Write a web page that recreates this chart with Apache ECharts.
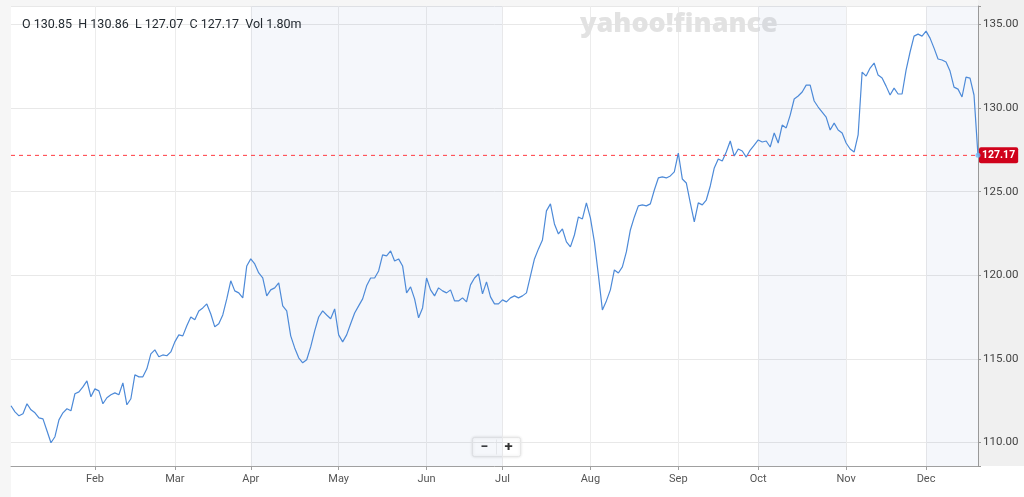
<!DOCTYPE html>
<html>
<head>
<meta charset="utf-8">
<style>
  html, body { margin: 0; padding: 0; background: #ffffff; }
  #chart { width: 1024px; height: 497px; }
</style>
<script src="https://cdn.jsdelivr.net/npm/echarts@6/dist/echarts.min.js"></script>
</head>
<body>
<div id="chart"></div>
<script>
// ---- data ----
const monthNames = ['Jan','Feb','Mar','Apr','May','Jun','Jul','Aug','Sep','Oct','Nov','Dec'];

const janClose = [112.20,111.84,111.60,111.72,112.32,111.96,111.78,111.48,111.42,110.71,109.99,110.35,111.36,111.78,112.02,111.90,112.92,113.03,113.33,113.69,112.74];
const febClose = [113.21,113.09,112.32,112.68,112.86,112.97,112.86,113.57,112.26,112.62,114.05,113.93,113.93,114.41,115.30,115.54,115.13,115.24,115.19,115.42];
const marClose = [116.02,116.44,116.38,116.98,117.51,117.34,117.87,118.05,118.29,117.69,116.92,117.10,117.63,118.59,119.67,119.07,118.95,118.65,120.56];
const aprClose = [120.98,120.68,120.14,119.84,118.77,119.13,119.25,119.55,118.17,117.87,116.38,115.66,115.07,114.77,114.95,115.72,116.68,117.51,117.87,117.63,117.40,117.99];
const mayClose = [116.44,116.02,116.44,117.10,117.75,118.17,118.59,119.37,119.84,119.84,120.26,121.22,121.16,121.46,120.86,120.98,120.56,118.95,119.31,118.59,117.46,118.05];
const junClose = [119.84,119.13,118.77,119.25,119.07,118.95,119.13,118.47,118.47,118.65,118.41,119.43,119.84,120.08,118.89,119.61,118.71,118.29,118.29];
const julClose = [118.53,118.41,118.65,118.77,118.65,118.77,118.95,119.96,120.98,121.58,122.11,123.85,124.27,123.07,122.47,122.77,122.00,121.70,122.41,123.49,123.37,124.33];
const augClose = [123.43,122.00,120.02,117.93,118.47,119.13,120.32,120.14,120.50,121.40,122.71,123.49,124.15,124.21,124.15,124.27,125.10,125.82,125.88,125.82,125.94,126.18];
const sepClose = [127.31,125.76,125.52,124.33,123.19,124.33,124.21,124.50,125.34,126.42,126.95,126.83,127.37,128.03,127.13,127.55,127.43,127.07,127.49,127.79];
const octClose = [128.09,127.97,128.03,127.67,128.51,127.91,128.98,128.81,129.58,130.54,130.72,130.96,131.37,131.37,130.42,130.06,129.76,129.46,128.69,129.10,128.69,128.51];
const novClose = [127.91,127.55,127.37,128.39,132.15,131.91,132.39,132.69,131.97,131.79,131.31,130.78,131.19,130.84,130.84,132.27,133.35,134.30,134.42,134.30];
const decClose = [134.60,134.18,133.58,132.93,132.87,132.75,132.21,131.25,131.13,130.66,131.85,131.79,130.78,127.17];

const yTickValues = [110, 115, 120, 125, 130, 135];
const quoteLabels = ['O', 'H', 'L', 'C', 'Vol'];
const quoteValues = ['130.85', '130.86', '127.07', '127.17', '1.80m'];
const lastPrice = 127.17;
const shadedMonths = [['Apr', 'Jul'], ['Oct', 'Nov'], ['Dec', null]];

// ---- build series from the arrays ----
const closeByMonth = [janClose, febClose, marClose, aprClose, mayClose, junClose,
                      julClose, augClose, sepClose, octClose, novClose, decClose];
const categories = [];
const closes = [];
closeByMonth.forEach((arr, m) => {
  arr.forEach((v, k) => {
    categories.push(monthNames[m] + '-' + (k + 1));
    closes.push(v);
  });
});
const lastIdx = closes.length - 1;
const isMonthStart = (idx) => {
  const c = categories[idx];
  return !!c && c.endsWith('-1') && !c.startsWith('Jan');
};

const markAreaData = shadedMonths.map(([a, b]) => [
  { xAxis: a + '-1' },
  { xAxis: b ? b + '-1' : categories[lastIdx] }
]);

const FONT = 'Roboto, "Liberation Sans", sans-serif';
const RED_LINE = '#ff3b42';

const chart = echarts.init(document.getElementById('chart'), null, { renderer: 'canvas' });
chart.setOption({
  animation: false,
  backgroundColor: '#ffffff',
  textStyle: { fontFamily: FONT },
  grid: {
    left: 11, right: 46, top: 6, bottom: 31,
    show: true, backgroundColor: '#ffffff', borderWidth: 0
  },
  graphic: [
    { type: 'rect', z: -10, shape: { x: 0, y: 0, width: 11, height: 497 }, style: { fill: '#f6f6f6' } },
    { type: 'rect', z: -10, shape: { x: 0, y: 0, width: 1024, height: 6 }, style: { fill: '#f6f6f6' } },
    { type: 'rect', z: -10, shape: { x: 978, y: 0, width: 46, height: 466 }, style: { fill: '#f0f0f0' } },
    {
      type: 'text', left: 22, top: 18, z: 100,
      style: {
        text: quoteLabels.map((l, i) => l + ' ' + quoteValues[i]).join('  '),
        font: '12.5px ' + FONT, fill: '#232a31'
      }
    },
    {
      type: 'text', left: 580, top: 11, z: 1,
      style: {
        text: 'yahoo!finance',
        font: '900 27px "Open Sans", Roboto, sans-serif', fill: '#e2e2e2'
      }
    },
    {
      type: 'group', left: 472, top: 437, z: 100,
      children: [
        { type: 'rect', shape: { x: 0, y: 0, width: 48, height: 19, r: 2 },
          style: { fill: '#ffffff', stroke: '#e6e6e6', lineWidth: 1, shadowBlur: 3, shadowColor: 'rgba(0,0,0,0.12)' } },
        { type: 'line', shape: { x1: 24, y1: 2, x2: 24, y2: 17 }, style: { stroke: '#eeeeee', lineWidth: 1 } },
        { type: 'text', style: { x: 12, y: 9.5, text: '−', font: 'bold 14px ' + FONT, fill: '#333', align: 'center', verticalAlign: 'middle' } },
        { type: 'text', style: { x: 36, y: 9.5, text: '+', font: 'bold 15px ' + FONT, fill: '#333', align: 'center', verticalAlign: 'middle' } }
      ]
    }
  ],
  xAxis: {
    type: 'category',
    data: categories,
    boundaryGap: false,
    axisLine: { show: true, lineStyle: { color: '#a0a0a0', width: 1 } },
    axisTick: { show: true, interval: (i) => isMonthStart(i), length: 4, lineStyle: { color: '#a0a0a0' } },
    axisLabel: {
      interval: (i) => isMonthStart(i),
      formatter: (v) => v.split('-')[0],
      color: '#555', fontSize: 11, margin: 8, fontFamily: FONT
    },
    splitLine: { show: true, interval: (i) => isMonthStart(i), lineStyle: { color: '#ececec', width: 1 } }
  },
  yAxis: {
    type: 'value',
    position: 'right',
    min: 108.6,
    max: 136.1,
    splitNumber: 5,
    axisLine: { show: true, lineStyle: { color: '#999', width: 1 } },
    axisTick: { show: true, length: 3, lineStyle: { color: '#999' } },
    axisLabel: {
      color: '#444', fontSize: 11.5, margin: 5, fontFamily: FONT,
      formatter: (v) => yTickValues.some(t => Math.abs(t - v) < 1e-6) ? v.toFixed(2) : ''
    },
    splitLine: { show: true, lineStyle: { color: '#e8e8e8', width: 1 } }
  },
  series: [
    {
      type: 'line',
      data: closes,
      symbol: 'none',
      smooth: false,
      lineStyle: { color: '#4d8ad8', width: 1.2 },
      z: 5,
      markArea: {
        silent: true,
        itemStyle: { color: 'rgba(0,60,160,0.04)' },
        data: markAreaData
      }
    },
    {
      // last-price reference line
      type: 'line',
      data: [[categories[0], lastPrice], [categories[lastIdx], lastPrice]],
      symbol: 'none',
      silent: true,
      z: 4,
      itemStyle: { color: RED_LINE },
      lineStyle: { color: RED_LINE, type: [4, 4], width: 1 },
      endLabel: {
        show: true,
        distance: 1,
        formatter: () => lastPrice.toFixed(2),
        backgroundColor: '#d0021b', color: '#fff',
        fontSize: 10.5, fontWeight: 'bold', padding: [3, 3, 2, 3], borderRadius: 2,
        fontFamily: FONT
      }
    },
    {
      type: 'scatter',
      data: [[lastIdx, closes[lastIdx]]],
      symbolSize: 5,
      itemStyle: { color: '#6fb5f5' },
      z: 6
    }
  ]
});
</script>
</body>
</html>
